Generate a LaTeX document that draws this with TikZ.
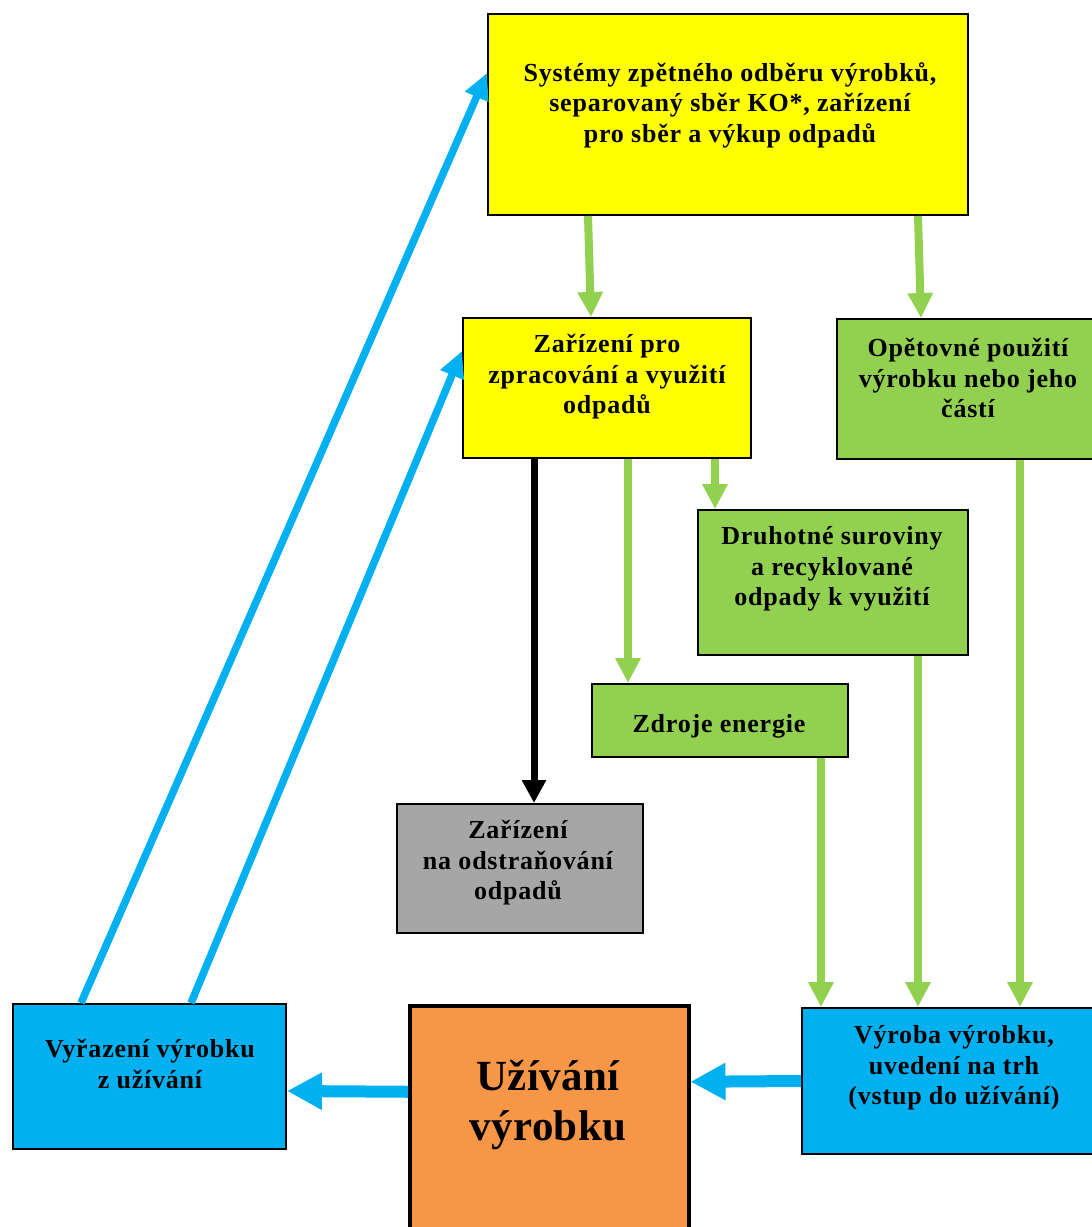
\documentclass[tikz,border=0pt]{standalone}
\usepackage{fontspec}
\setmainfont{Liberation Serif}
\usetikzlibrary{arrows.meta}
\definecolor{cyel}{HTML}{FFFF00}
\definecolor{cgreen}{HTML}{92D050}
\definecolor{cgray}{HTML}{A6A6A6}
\definecolor{cblue}{HTML}{00B0F0}
\definecolor{corange}{HTML}{F79646}
\begin{document}
\begin{tikzpicture}[x=1pt,y=-1pt,
  box/.style={draw=black, line width=2pt, inner sep=0pt, anchor=north west},
  lbl/.style={font=\bfseries\fontsize{26}{30.5}\selectfont\addfontfeature{LetterSpace=3}, align=center, inner sep=0pt},
  biglbl/.style={font=\bfseries\fontsize{43}{50}\selectfont\addfontfeature{LetterSpace=1}, align=center, inner sep=0pt},
  garrow/.style={draw=cgreen, line width=8pt, -{Triangle[width=24pt,length=25pt]}},
  karrow/.style={draw=black, line width=7pt, -{Triangle[width=23pt,length=23pt]}},
  barrow/.style={draw=cblue, line width=7.5pt, -{Triangle[width=24pt,length=26pt]}},
  hbarrow/.style={draw=cblue, line width=12pt, -{Triangle[width=35pt,length=35pt]}}]
\useasboundingbox (0,0) rectangle (1092,1227);
\clip (0,0) rectangle (1092,1227);
\fill[white] (0,0) rectangle (1092,1227);
% boxes
\node[box, fill=cyel, minimum width=480, minimum height=201] (top) at (487,13) {};
\node[box, fill=cyel, minimum width=288, minimum height=140] (zpr) at (462,317) {};
\node[box, fill=cgreen, minimum width=258, minimum height=140] (ope) at (836,318) {};
\node[box, fill=cgreen, minimum width=270, minimum height=145] (dru) at (697,509) {};
\node[box, fill=cgreen, minimum width=256, minimum height=73] (zdr) at (591,683) {};
\node[box, fill=cgray, minimum width=246, minimum height=129] (odst) at (396,803) {};
\node[box, fill=cblue, minimum width=273, minimum height=145] (vyr) at (12,1003) {};
\node[box, fill=corange, line width=3.5pt, minimum width=279, minimum height=240] (uz) at (408,1004) {};
\node[box, fill=cblue, minimum width=293, minimum height=146] (vyroba) at (801,1007) {};
% labels
\node[lbl] (ltop) at (730,105) {Systémy zpětného odběru výrobků,\\separovaný sběr KO*, zařízení\\pro sběr a výkup odpadů};
\node[lbl] (lzpr) at (607,377) {Zařízení pro\\zpracování a využití\\odpadů};
\node[lbl] (lope) at (968,378) {Opětovné použití\\výrobku nebo jeho\\částí};
\node[lbl] (ldru) at (832,569) {Druhotné suroviny\\a recyklované\\odpady k využití};
\node[lbl] (lzdr) at (719,726) {Zdroje energie};
\node[lbl] (lodst) at (518,863) {Zařízení\\na odstraňování\\odpadů};
\node[lbl] (lvyr) at (150,1064) {Vyřazení výrobku\\z užívání};
\node[biglbl] (luz) at (548,1105) {Užívání\\výrobku};
\node[lbl] (lvyroba) at (954,1068) {Výroba výrobku,\\uvedení na trh\\(vstup do užívání)};
% green arrows
\draw[garrow] ([xshift=-140]top.south) -- ([xshift=-16]zpr.north);
\draw[garrow] ([xshift=190]top.south) -- ([xshift=-45]ope.north);
\draw[garrow] ([xshift=21]zpr.south) -- ([xshift=-92]zdr.north);
\draw[garrow] ([xshift=108]zpr.south) -- ([xshift=-118]dru.north);
\draw[karrow] ([xshift=-73]zpr.south) -- ([xshift=14]odst.north);
\draw[garrow] ([xshift=101]zdr.south) -- ([xshift=-127.5]vyroba.north);
\draw[garrow] ([xshift=85]dru.south) -- ([xshift=-30.5]vyroba.north);
\draw[garrow] ([xshift=54]ope.south) -- ([xshift=71.5]vyroba.north);
% blue arrows
\draw[barrow] ([xshift=-68.5]vyr.north) -- ([yshift=41.5]top.west);
\draw[barrow] ([xshift=41.5]vyr.north) -- ([yshift=37]zpr.west);
\draw[hbarrow] (vyroba.west) -- ([yshift=44]uz.east);
\draw[hbarrow] ([yshift=34]uz.west) -- ([yshift=-14.5]vyr.east);
\end{tikzpicture}
\end{document}
